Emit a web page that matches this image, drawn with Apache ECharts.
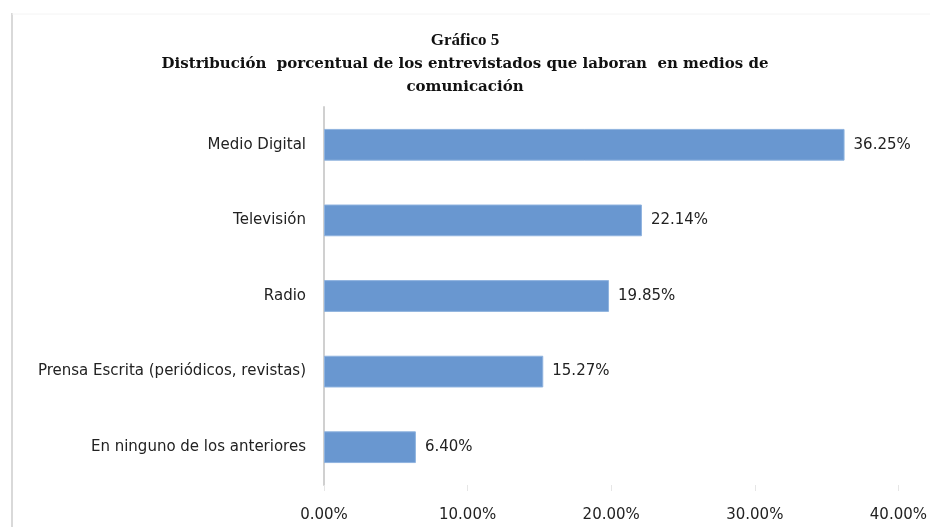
<!DOCTYPE html>
<html>
<head>
<meta charset="utf-8">
<script src="https://cdn.jsdelivr.net/npm/echarts@6/dist/echarts.min.js"></script>
<style>
  html, body { margin: 0; padding: 0; background: #fff; }
  #chart { width: 930px; height: 527px; }
</style>
</head>
<body>
<div id="chart"></div>
<script>
const categories = [
  'Medio Digital',
  'Televisión',
  'Radio',
  'Prensa Escrita (periódicos, revistas)',
  'En ninguno de los anteriores'
];
const values = [36.25, 22.14, 19.85, 15.27, 6.40];
const xTicks = [0, 10, 20, 30, 40];

const chart = echarts.init(document.getElementById('chart'));

let option = {
  backgroundColor: '#fff',
  title: {
    text: 'Gráfico 5',
    subtext: 'Distribución  porcentual de los entrevistados que laboran  en medios de\ncomunicación',
    left: 'center',
    top: 27,
    itemGap: 4,
    textStyle: {
      fontFamily: 'Liberation Serif',
      fontWeight: 'bold',
      fontSize: 17,
      color: '#111',
    },
    subtextStyle: {
      fontFamily: 'DejaVu Serif',
      fontWeight: 'bold',
      fontSize: 15,
      lineHeight: 23,
      color: '#111',
    },
  },
  graphic: [
    {
      type: 'line',
      shape: { x1: 12, y1: 13, x2: 12, y2: 527 },
      style: { stroke: '#d9d9d9', lineWidth: 2 },
    },
    {
      type: 'line',
      shape: { x1: 12, y1: 14, x2: 930, y2: 14 },
      style: { stroke: '#f4f4f4', lineWidth: 1 },
    },
  ],
  grid: {
    left: 324,
    right: 29,
    top: 107,
    bottom: 42,
  },
  xAxis: {
    type: 'value',
    min: xTicks[0],
    max: xTicks[xTicks.length - 1],
    interval: 10,
    axisLine: { show: false },
    axisTick: { show: true, length: 6, lineStyle: { color: '#e6e6e6' } },
    splitLine: { show: false },
    axisLabel: {
      margin: 23,
      fontFamily: 'DejaVu Sans',
      fontSize: 15,
      color: '#222',
      formatter: v => v.toFixed(2) + '%',
    },
  },
  yAxis: {
    type: 'category',
    data: categories,
    inverse: true,
    axisLine: { show: true, lineStyle: { color: '#d0d0d0', width: 2 } },
    axisTick: { show: false },
    axisLabel: {
      margin: 18,
      fontFamily: 'DejaVu Sans',
      fontSize: 15,
      color: '#222',
    },
  },
  series: [
    {
      type: 'bar',
      data: values,
      barWidth: '42%',
      itemStyle: { color: '#6997d0', borderColor: '#8fb3df', borderWidth: 1 },
      label: {
        show: true,
        position: 'right',
        distance: 9,
        fontFamily: 'DejaVu Sans',
        fontSize: 15,
        color: '#222',
        formatter: p => p.value.toFixed(2) + '%',
      },
    },
  ],
};

chart.setOption(option);
</script>
</body>
</html>
